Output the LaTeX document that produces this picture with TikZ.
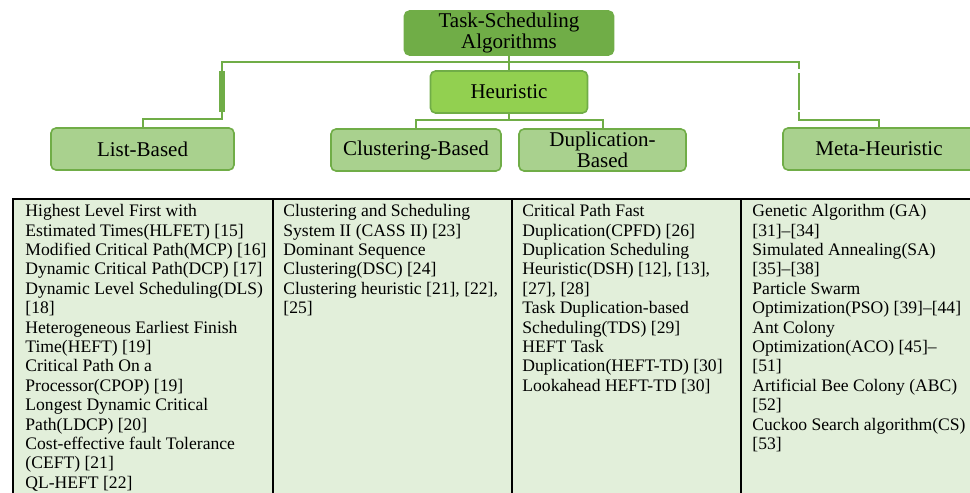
\documentclass[tikz,border=0pt]{standalone}
\usepackage{fontspec}
\setmainfont{Liberation Serif}
\usepackage{xcolor}
\usetikzlibrary{positioning}

\definecolor{rootgreen}{HTML}{70AD47}
\definecolor{heurgreen}{HTML}{92D050}
\definecolor{catgreen}{HTML}{A9D18E}
\definecolor{cellgreen}{HTML}{E2EFDA}

\tikzset{
    catbox/.style={draw=rootgreen, line width=0.8pt, rounded corners=2.5pt,
        fill=catgreen, align=center, inner sep=0pt,
        font=\fontsize{10.5}{10.5}\selectfont},
    conn/.style={draw=rootgreen, line width=1pt},
    celltext/.style={anchor=north west, align=left, inner sep=0pt,
        font=\fontsize{8.8}{9.7}\selectfont}
}

\begin{document}
\begin{tikzpicture}[x=0.5pt, y=-0.5pt]
    \useasboundingbox (0,0) rectangle (970,493);
    \clip (0,0) rectangle (970,493);

    % Root and heuristic boxes
    \node[catbox, fill=rootgreen, minimum width=104.5pt, minimum height=22pt]
        (root) at (509,33) {Task-Scheduling\\Algorithms};
    \node[catbox, fill=heurgreen, minimum width=78.5pt, minimum height=21pt]
        (heur) at (509,92) {Heuristic};

    % Category boxes
    \node[catbox, minimum width=91.5pt, minimum height=21pt] (list) at (142.5,149) {List-Based};
    \node[catbox, minimum width=85pt, minimum height=21pt] (clus) at (416,150) {Clustering-Based};
    \node[catbox, minimum width=83.5pt, minimum height=21pt] (dup) at (602.5,150) {Duplication-\\Based};
    \node[catbox, minimum width=96pt, minimum height=21pt] (meta) at (879,149) {Meta-Heuristic};

    % Connectors
    \coordinate (jl) at (222,62);
    \coordinate (jr) at (799,62);
    \coordinate (hb) at (509,120);
    \draw[conn] (root.south) -- (heur.north);
    \draw[conn] (list.north) -- ++(0,-8) -| (jl) -- (jr) |- (meta.north |- hb) -- (meta.north);
    \draw[conn] (heur.south) -- (hb);
    \draw[conn] (clus.north) |- (hb) -| (dup.north);
    \draw[rootgreen, line width=2.6pt] (222,71) -- (222,112);
    \draw[white, line width=2.4pt] (799,69) -- (799,112);
    \draw[rootgreen, line width=1.4pt] (799,73) -- (799,110);

    % Table of algorithms
    \fill[cellgreen] (13,199) rectangle (990,510);
    \draw[line width=0.9pt] (13,510) -- (13,199) -- (990,199);
    \foreach \x in {273,512,741} {
        \draw[line width=0.9pt] (\x,199) -- (\x,510);
    }

    \node[celltext] (cell1) at (25,204) {Highest Level First with\\
        Estimated Times(HLFET) [15]\\
        Modified Critical Path(MCP) [16]\\
        Dynamic Critical Path(DCP) [17]\\
        Dynamic Level Scheduling(DLS)\\
        {[18]}\\
        Heterogeneous Earliest Finish\\
        Time(HEFT) [19]\\
        Critical Path On a\\
        Processor(CPOP) [19]\\
        Longest Dynamic Critical\\
        Path(LDCP) [20]\\
        Cost-effective fault Tolerance\\
        (CEFT) [21]\\
        QL-HEFT [22]};
    \node[celltext] (cell2) at (283,204) {Clustering and Scheduling\\
        System II (CASS II) [23]\\
        Dominant Sequence\\
        Clustering(DSC) [24]\\
        Clustering heuristic [21], [22],\\
        {[25]}};
    \node[celltext] (cell3) at (522,204) {Critical Path Fast\\
        Duplication(CPFD) [26]\\
        Duplication Scheduling\\
        Heuristic(DSH) [12], [13],\\
        {[27]}, [28]\\
        Task Duplication-based\\
        Scheduling(TDS) [29]\\
        HEFT Task\\
        Duplication(HEFT-TD) [30]\\
        Lookahead HEFT-TD [30]};
    \node[celltext] (cell4) at (752,204) {Genetic Algorithm (GA)\\
        {[31]}--[34]\\
        Simulated Annealing(SA)\\
        {[35]}--[38]\\
        Particle Swarm\\
        Optimization(PSO) [39]--[44]\\
        Ant Colony\\
        Optimization(ACO) [45]--\\
        {[51]}\\
        Artificial Bee Colony (ABC)\\
        {[52]}\\
        Cuckoo Search algorithm(CS)\\
        {[53]}};
\end{tikzpicture}
\end{document}
